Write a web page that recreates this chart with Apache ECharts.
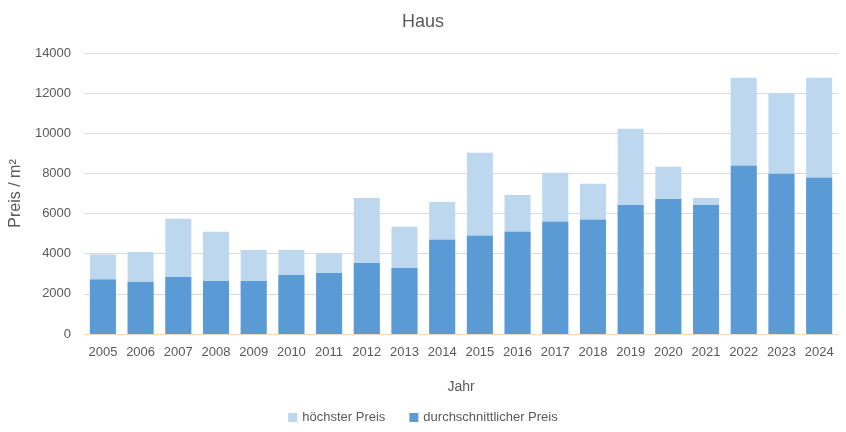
<!DOCTYPE html>
<html>
<head>
<meta charset="utf-8">
<script src="https://cdn.jsdelivr.net/npm/echarts@6/dist/echarts.min.js"></script>
<style>html,body{margin:0;padding:0;background:#fff}#c{width:846px;height:432px}</style>
</head>
<body>
<div id="c"></div>
<script>
var years = ['2005','2006','2007','2008','2009','2010','2011','2012','2013','2014','2015','2016','2017','2018','2019','2020','2021','2022','2023','2024'];
var hoechsterPreis = [3960,4090,5740,5090,4190,4190,4040,6780,5340,6580,9030,6930,8030,7480,10220,8330,6780,12770,12000,12770];
var durchschnittPreis = [2710,2590,2840,2640,2640,2940,3040,3540,3290,4690,4890,5090,5590,5690,6430,6730,6430,8380,7980,7780];
var yTicks = [0,2000,4000,6000,8000,10000,12000,14000];

var font = 'Liberation Sans, Arial, sans-serif';
var chart = echarts.init(document.getElementById('c'), null, {renderer:'canvas'});
chart.setOption({
  animation:false,
  backgroundColor:'#ffffff',
  title:{text:'Haus', left:'center', top:8, textStyle:{fontFamily:font, fontSize:18, fontWeight:'normal', color:'#595959'}},
  grid:{left:83, right:8, top:53, bottom:98},
  legend:{
    bottom:3, left:'center', itemWidth:9, itemHeight:9, itemGap:24, icon:'rect',
    textStyle:{fontFamily:font, fontSize:13, color:'#595959'},
    data:['höchster Preis','durchschnittlicher Preis']
  },
  xAxis:{
    type:'category', data:years,
    name:'Jahr', nameLocation:'middle', nameGap:46,
    nameTextStyle:{fontFamily:font, fontSize:14, color:'#595959'},
    axisLine:{lineStyle:{color:'#efd9c3'}},
    axisTick:{show:false},
    axisLabel:{fontFamily:font, fontSize:13, color:'#595959', margin:12, interval:0}
  },
  yAxis:{
    type:'value', min:yTicks[0], max:yTicks[yTicks.length-1], interval:2000,
    name:'Preis / m²', nameLocation:'middle', nameGap:58,
    nameTextStyle:{fontFamily:font, fontSize:16, color:'#595959'},
    axisLine:{show:false}, axisTick:{show:false},
    splitLine:{lineStyle:{color:'#d9d9d9'}},
    axisLabel:{fontFamily:font, fontSize:13, color:'#595959', margin:13, formatter:function(v){return String(v);}}
  },
  series:[
    {name:'höchster Preis', type:'bar', data:hoechsterPreis, barGap:'-100%', barCategoryGap:'31%', itemStyle:{color:'#bdd7ee'}},
    {name:'durchschnittlicher Preis', type:'bar', data:durchschnittPreis, barGap:'-100%', barCategoryGap:'31%', itemStyle:{color:'#5b9bd5'}}
  ]
});
</script>
</body>
</html>
